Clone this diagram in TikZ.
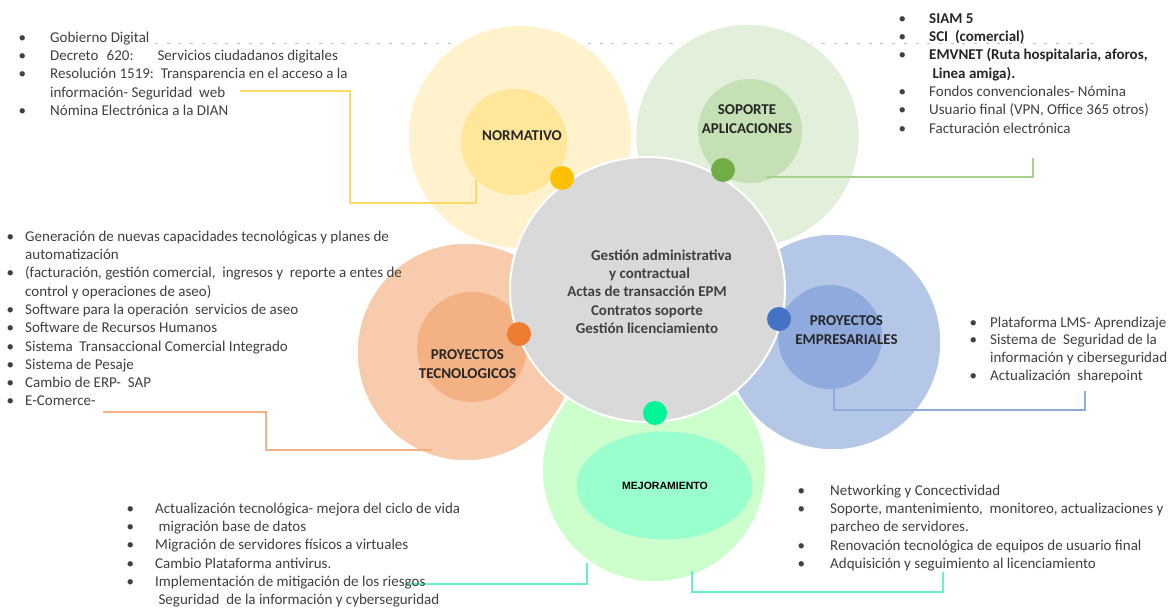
\documentclass[tikz,border=0pt]{standalone}
\usepackage{fontspec}
\setmainfont{Carlito}
\newfontfamily\arialfnt{Liberation Sans}
\usetikzlibrary{shapes.geometric}
\definecolor{yelO}{HTML}{FFF2CC}\definecolor{yelI}{HTML}{FFE699}\definecolor{yelD}{HTML}{FFC000}\definecolor{yelL}{HTML}{FFD966}
\definecolor{grnO}{HTML}{E2EFDA}\definecolor{grnI}{HTML}{C5E0B4}\definecolor{grnD}{HTML}{70AD47}\definecolor{grnL}{HTML}{A9D18E}
\definecolor{orgO}{HTML}{F8CBAD}\definecolor{orgI}{HTML}{F4B183}\definecolor{orgD}{HTML}{ED7D31}\definecolor{orgL}{HTML}{F4B183}
\definecolor{bluO}{HTML}{B4C7E7}\definecolor{bluI}{HTML}{8FAADC}\definecolor{bluD}{HTML}{4472C4}\definecolor{bluL}{HTML}{8FAADC}
\definecolor{mntO}{HTML}{CCFFCC}\definecolor{mntI}{HTML}{99FFCC}\definecolor{mntD}{HTML}{00F598}\definecolor{mntL}{HTML}{66F5C0}
\definecolor{hubC}{HTML}{D9D9D9}\definecolor{txt}{HTML}{404040}\definecolor{lblC}{HTML}{262626}\definecolor{dotL}{HTML}{BFBFBF}
\newlength\bw
\newcommand\itm[1]{\makebox[\bw][l]{\strut\textbullet}#1}
\newcommand\cnt[1]{\hspace*{\bw}\strut#1}
\begin{document}
\begin{tikzpicture}[x=1pt,y=-1pt,
  lst/.style={anchor=north west, inner sep=0pt, align=left, text=txt, font=\fontsize{15}{18.3}\selectfont},
  bw/.code={\setlength{\bw}{#1}},
  petal/.style={circle, inner sep=0pt, draw=white, line width=1.5pt, minimum size=#1},
  core/.style={circle, inner sep=0pt, minimum size=#1},
  dotn/.style={circle, inner sep=0pt, minimum size=24pt},
  lbl/.style={align=center, inner sep=0pt, text=lblC, font=\bfseries\fontsize{15}{18.3}\selectfont},
  conn/.style={line width=1.5pt},
]
\useasboundingbox[fill=white] (0,0) rectangle (1176,608);

% dotted guide line
\coordinate (dA) at (155,43);
\coordinate (dB) at (1093,43);
\draw[dotL, line width=1pt, dash pattern=on 3pt off 8.7pt] (dA) -- (dB);

% petals
\node[petal=224pt, fill=yelO] (normO) at (520,137) {};
\node[petal=224pt, fill=grnO] (sopO) at (747.5,136) {};
\node[petal=224pt, fill=mntO] (mejO) at (654,470) {};
\node[petal=218pt, fill=orgO] (tecO) at (466,352) {};
\node[petal=216pt, fill=bluO] (empO) at (833,342) {};

% inner circles
\node[core=106pt, fill=yelI] (normI) at (514,142) {};
\node[core=104pt, fill=grnI] (sopI) at (750,131) {};
\node[core=110pt, fill=orgI] (tecI) at (472,347) {};
\node[core=104pt, fill=bluI] (empI) at (830,337) {};
\node[ellipse, inner sep=0pt, minimum width=176pt, minimum height=108pt, fill=mntI] (mejI) at (664.5,485.5) {};

% connectors
\coordinate (yA) at (240,91);  \coordinate (yB) at (476,180);
\draw[conn, yelL] (yA) -| ++(110,112) -| (yB);
\coordinate (gA) at (767,177); \coordinate (gB) at (1033,158);
\draw[conn, grnL] (gA) -| (gB);
\coordinate (bA) at (834,388); \coordinate (bB) at (1085,391);
\draw[conn, bluL] (bA) -- ++(0,22) -| (bB);
\coordinate (oA) at (103,412); \coordinate (oB) at (432,450);
\draw[conn, orgL] (oA) -| ++(163,38) -- (oB);
\coordinate (mA) at (405,584); \coordinate (mB) at (587,563);
\draw[conn, mntL] (mA) -| (mB);
\coordinate (mC) at (692,571); \coordinate (mD) at (943,572);
\draw[conn, mntL] (mC) -- ++(0,21) -| (mD);

% hub
\node[ellipse, inner sep=0pt, minimum width=275pt, minimum height=265pt, fill=hubC, draw=white, line width=2pt] (hub) at (647.5,289.5) {};
\node[anchor=north, align=center, inner sep=0pt, text=txt, font=\bfseries\fontsize{15}{18.3}\selectfont] (hubT) at (647,247.2)
 {\strut\hspace*{29pt}Gestión administrativa\\\hspace*{5pt}y contractual\\Actas de transacción EPM\\Contratos soporte\\Gestión licenciamiento};

% dots
\node[dotn, fill=yelD] (normD) at (562,178) {};
\node[dotn, fill=grnD] (sopD) at (723,170) {};
\node[dotn, fill=orgD] (tecD) at (519,334) {};
\node[dotn, fill=bluD] (empD) at (779,319) {};
\node[dotn, fill=mntD] (mejD) at (655,413) {};

% labels
\node[lbl] (normL) at (522,136) {NORMATIVO};
\node[lbl] (sopL) at (747,119) {SOPORTE\\APLICACIONES};
\node[lbl] (tecL) at (467.5,364) {PROYECTOS\\TECNOLOGICOS};
\node[lbl] (empL) at (846.5,330) {PROYECTOS\\EMPRESARIALES};
\node[inner sep=0pt, text=black, font=\arialfnt\bfseries\fontsize{10.5}{12}\selectfont] (mejL) at (665,486) {MEJORAMIENTO};

% lists
\node[lst, bw=31.7pt] (normList) at (18.3,29.2) {%
\itm{Gobierno Digital}\\
\itm{Decreto\hspace{8.3pt}620:\hspace{24pt}Servicios ciudadanos digitales}\\
\itm{Resolución 1519:\ \ Transparencia en el acceso a la}\\
\cnt{información- Seguridad\ \ web}\\
\itm{Nómina Electrónica a la DIAN}};

\node[lst, bw=30.7pt] (sopList) at (898.3,10.2) {%
\itm{\textbf{\color{lblC}SIAM 5}}\\
\itm{\textbf{\color{lblC}SCI\ \ (comercial)}}\\
\itm{\textbf{\color{lblC}EMVNET (Ruta hospitalaria, aforos,}}\\
\cnt{\textbf{\color{lblC}\ Linea amiga).}}\\
\itm{Fondos convencionales- Nómina}\\
\itm{Usuario final (VPN, Office 365 otros)}\\
\itm{Facturación electrónica}};

\node[lst, bw=18.7pt] (tecList) at (6.3,228.2) {%
\itm{Generación de nuevas capacidades tecnológicas y planes de}\\
\cnt{automatización}\\
\itm{(facturación, gestión comercial,\ \ ingresos y\ \ reporte a entes de}\\
\cnt{control y operaciones de aseo)}\\
\itm{Software para la operación\ \ servicios de aseo}\\
\itm{Software de Recursos Humanos}\\
\itm{Sistema\ \ Transaccional Comercial Integrado}\\
\itm{Sistema de Pesaje}\\
\itm{Cambio de ERP-\ \ SAP}\\
\itm{E-Comerce-}};

\node[lst, bw=20.7pt, font=\fontsize{15}{17.7}\selectfont] (empList) at (969.3,314.6) {%
\itm{Plataforma LMS- Aprendizaje}\\
\itm{Sistema de\ \ Seguridad de la}\\
\cnt{información y ciberseguridad}\\
\itm{Actualización\ \ sharepoint}};

\node[lst, bw=28.7pt] (mejList1) at (126.3,500.2) {%
\itm{Actualización tecnológica- mejora del ciclo de vida}\\
\itm{\ migración base de datos}\\
\itm{Migración de servidores físicos a virtuales}\\
\itm{Cambio Plataforma antivirus.}\\
\itm{Implementación de mitigación de los riesgos}\\
\cnt{\ Seguridad\ \ de la información y cyberseguridad}};

\node[lst, bw=32.7pt] (mejList2) at (797.3,482.2) {%
\itm{Networking y Concectividad}\\
\itm{Soporte, mantenimiento,\ \ monitoreo, actualizaciones y}\\
\cnt{parcheo de servidores.}\\
\itm{Renovación tecnológica de equipos de usuario final}\\
\itm{Adquisición y seguimiento al licenciamiento}};
\end{tikzpicture}
\end{document}
